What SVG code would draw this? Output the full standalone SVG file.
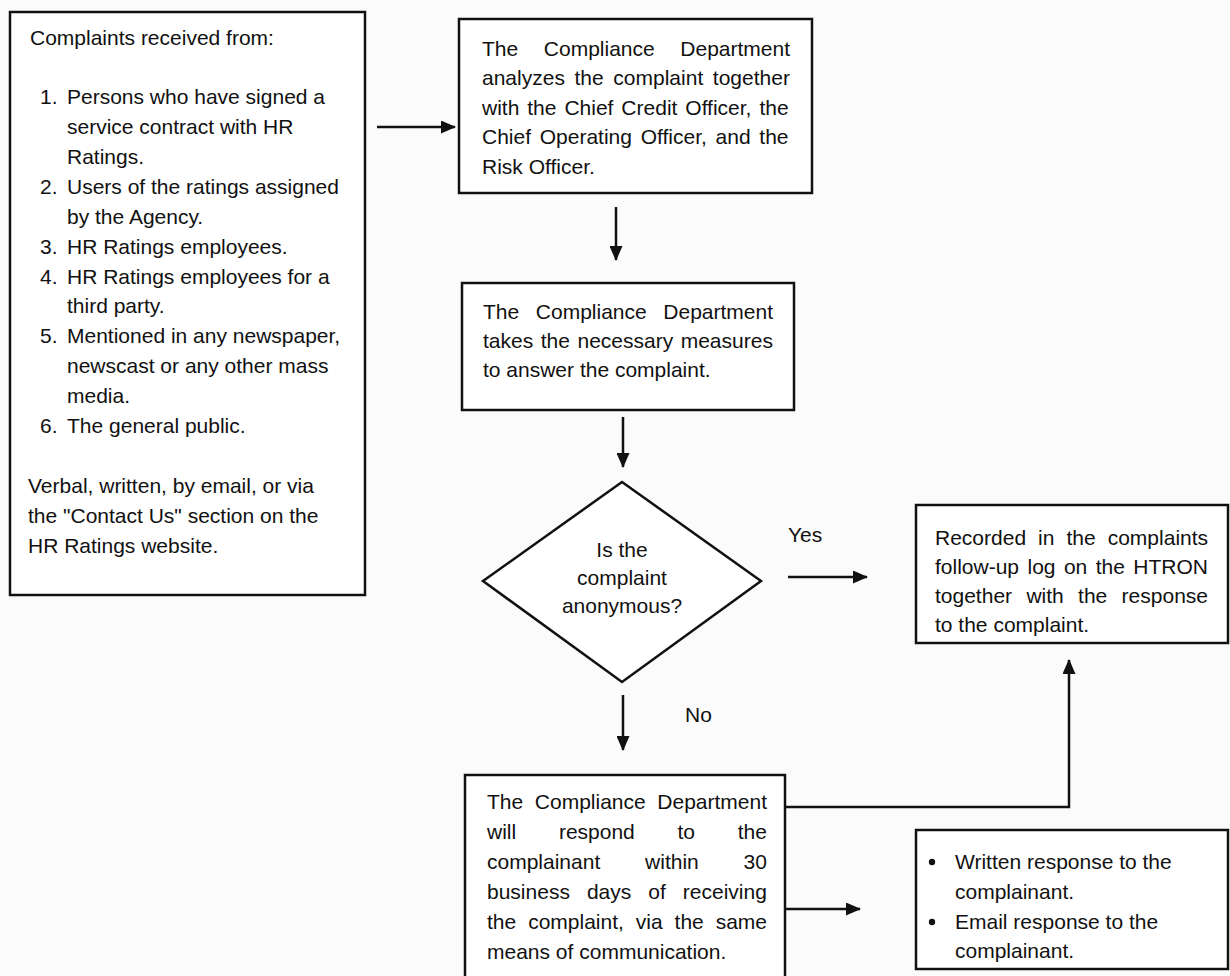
<svg xmlns="http://www.w3.org/2000/svg" width="1230" height="976" viewBox="0 0 1230 976">
<style>
  .bg{fill:#fbfbfb}
  .box{fill:#ffffff;stroke:#111;stroke-width:2.5}
  .t{font-family:"Liberation Sans",Arial,sans-serif;font-size:21px;fill:#111}
  .c{text-anchor:middle}
  .conn{fill:none;stroke:#111;stroke-width:2.5}
</style>
<defs>
  <marker id="ah" markerUnits="userSpaceOnUse" markerWidth="15" markerHeight="13" refX="14" refY="6.5" orient="auto">
    <path d="M0,0 L15,6.5 L0,13 z" fill="#111"/>
  </marker>
</defs>
<rect class="bg" x="0" y="0" width="1230" height="976"/>

<g id="sources">
  <rect class="box" x="10" y="12" width="355" height="583"/>
  <text class="t" x="30" y="45">Complaints received from:</text>
  <text class="t" x="40" y="104">1.</text><text class="t" x="67" y="104">Persons who have signed a</text>
  <text class="t" x="67" y="134">service contract with HR</text>
  <text class="t" x="67" y="164">Ratings.</text>
  <text class="t" x="40" y="194">2.</text><text class="t" x="67" y="194">Users of the ratings assigned</text>
  <text class="t" x="67" y="224">by the Agency.</text>
  <text class="t" x="40" y="254">3.</text><text class="t" x="67" y="254">HR Ratings employees.</text>
  <text class="t" x="40" y="284">4.</text><text class="t" x="67" y="284">HR Ratings employees for a</text>
  <text class="t" x="67" y="313">third party.</text>
  <text class="t" x="40" y="343">5.</text><text class="t" x="67" y="343">Mentioned in any newspaper,</text>
  <text class="t" x="67" y="373">newscast or any other mass</text>
  <text class="t" x="67" y="403">media.</text>
  <text class="t" x="40" y="433">6.</text><text class="t" x="67" y="433">The general public.</text>
  <text class="t" x="28" y="493">Verbal, written, by email, or via</text>
  <text class="t" x="28" y="523">the "Contact Us" section on the</text>
  <text class="t" x="28" y="553">HR Ratings website.</text>
</g>

<g id="analyze">
  <rect class="box" x="459" y="19" width="353" height="174"/>
  <text class="t" x="482" y="56" style="word-spacing:19.8px">The Compliance Department</text>
  <text class="t" x="482" y="85" style="word-spacing:3.8px">analyzes the complaint together</text>
  <text class="t" x="482" y="115" style="word-spacing:2.1px">with the Chief Credit Officer, the</text>
  <text class="t" x="482" y="144" style="word-spacing:2.9px">Chief Operating Officer, and the</text>
  <text class="t" x="482" y="174">Risk Officer.</text>
</g>

<g id="measures">
  <rect class="box" x="462" y="283" width="332" height="127"/>
  <text class="t" x="483" y="319" style="word-spacing:10.8px">The Compliance Department</text>
  <text class="t" x="483" y="348" style="word-spacing:1.7px">takes the necessary measures</text>
  <text class="t" x="483" y="377">to answer the complaint.</text>
</g>

<g id="decision">
  <polygon points="622,482 761,581 622,682 483,581" fill="#ffffff" stroke="#111" stroke-width="2.5"/>
  <text class="t c" x="622" y="557">Is the</text>
  <text class="t c" x="622" y="585">complaint</text>
  <text class="t c" x="622" y="613">anonymous?</text>
</g>

<g id="recorded">
  <rect class="box" x="916" y="505" width="312" height="138"/>
  <text class="t" x="935" y="545" style="word-spacing:6.2px">Recorded in the complaints</text>
  <text class="t" x="935" y="574" style="word-spacing:2.6px">follow-up log on the HTRON</text>
  <text class="t" x="935" y="603" style="word-spacing:8.5px">together with the response</text>
  <text class="t" x="935" y="632">to the complaint.</text>
</g>

<g id="respond">
  <rect class="box" x="465" y="775" width="320" height="220"/>
  <text class="t" x="487" y="809" style="word-spacing:5.8px">The Compliance Department</text>
  <text class="t" x="487" y="839" style="word-spacing:36.9px">will respond to the</text>
  <text class="t" x="487" y="869" style="word-spacing:39px">complainant within 30</text>
  <text class="t" x="487" y="899" style="word-spacing:11.2px">business days of receiving</text>
  <text class="t" x="487" y="929" style="word-spacing:6.1px">the complaint, via the same</text>
  <text class="t" x="487" y="959">means of communication.</text>
</g>

<g id="responses">
  <rect class="box" x="916" y="830" width="312" height="139"/>
  <circle cx="932" cy="862" r="3.2" fill="#111"/>
  <text class="t" x="955" y="869">Written response to the</text>
  <text class="t" x="955" y="899">complainant.</text>
  <circle cx="932" cy="922" r="3.2" fill="#111"/>
  <text class="t" x="955" y="929">Email response to the</text>
  <text class="t" x="955" y="958">complainant.</text>
</g>

<g id="connectors">
  <path class="conn" d="M377,127 H455" marker-end="url(#ah)"/>
  <path class="conn" d="M616,207 V260" marker-end="url(#ah)"/>
  <path class="conn" d="M623,417 V467" marker-end="url(#ah)"/>
  <path class="conn" d="M788,577 H867" marker-end="url(#ah)"/>
  <path class="conn" d="M623,695 V750" marker-end="url(#ah)"/>
  <path class="conn" d="M785,807 H1069 V660" marker-end="url(#ah)"/>
  <path class="conn" d="M785,909 H860" marker-end="url(#ah)"/>
  <text class="t" x="788" y="542">Yes</text>
  <text class="t" x="685" y="722">No</text>
</g>
</svg>
